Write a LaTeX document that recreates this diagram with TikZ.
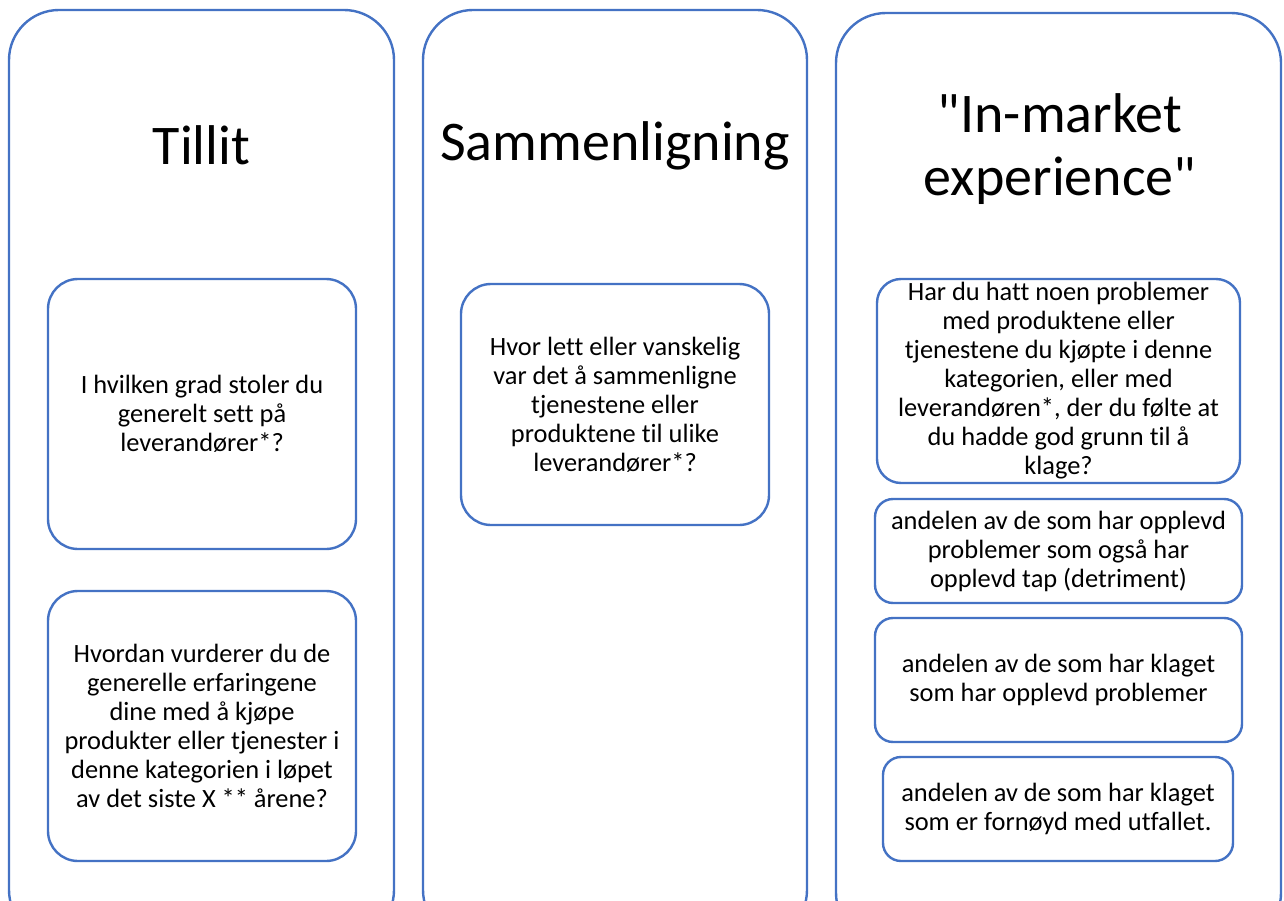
\documentclass[tikz,border=0pt]{standalone}
\usepackage{fontspec}
\setmainfont{Carlito}[Ligatures={TeXOff,NoCommon}]
\definecolor{frameblue}{HTML}{4472C4}
\tikzset{
  outerbox/.style={draw=frameblue, line width=2.4pt, rounded corners=50pt, minimum width=#1, minimum height=930pt, inner sep=0pt},
  innerbox/.style={draw=frameblue, line width=2.4pt, rounded corners=30pt, inner sep=0pt, fill=white},
  smallbox/.style={draw=frameblue, line width=2.4pt, rounded corners=18pt, inner sep=0pt, fill=white},
  title/.style={font=\fontsize{56}{63}\selectfont, align=center},
  body/.style={font=\fontsize{26.4}{29}\selectfont, align=center}
}
\begin{document}
\begin{tikzpicture}[x=1pt,y=-1pt]
\useasboundingbox (0,0) rectangle (1284,901);
\clip (0,0) rectangle (1284,901);
\fill[white] (0,0) rectangle (1284,901);
% outer columns
\node[outerbox=385pt] (col1) at (201.5,475) {};
\node[outerbox=384pt] (col2) at (615,475) {};
\node[outerbox=445pt] (col3) at (1058.5,478) {};
% titles
\node[title] (t1) at (201.5,145) {Tillit};
\node[title] (t2) at (615,146) {Sammenligning};
\node[title] (t3) at (1060,149) {"In-market\\experience"};
% Tillit boxes
\node[innerbox, minimum width=308pt, minimum height=270pt] (a1) at (202,414) {};
\node[body] (a1t) at (a1.center) {I hvilken grad stoler du\\generelt sett på\\leverandører*?};
\node[innerbox, minimum width=308pt, minimum height=270pt] (a2) at (202,726) {};
\node[body] (a2t) at (a2.center) {Hvordan vurderer du de\\generelle erfaringene\\dine med å kjøpe\\produkter eller tjenester i\\denne kategorien i løpet\\av det siste X ** årene?};
% Sammenligning box
\node[innerbox, minimum width=308pt, minimum height=241pt] (b1) at (615,404.5) {};
\node[body] (b1t) at (b1.center) {Hvor lett eller vanskelig\\var det å sammenligne\\tjenestene eller\\produktene til ulike\\leverandører*?};
% In-market boxes
\node[innerbox, rounded corners=24pt, minimum width=363pt, minimum height=204pt] (c1) at (1058.5,381) {};
\node[body] (c1t) at (c1.center) {Har du hatt noen problemer\\med produktene eller\\tjenestene du kjøpte i denne\\kategorien, eller med\\leverandøren*, der du følte at\\du hadde god grunn til å\\klage?};
\node[smallbox, minimum width=367pt, minimum height=104pt] (c2) at (1058.5,551) {};
\node[body] (c2t) at (c2.center) {andelen av de som har opplevd\\problemer som også har\\opplevd tap (detriment)};
\node[smallbox, minimum width=367pt, minimum height=124pt] (c3) at (1058.5,680) {};
\node[body] (c3t) at (c3.center) {andelen av de som har klaget\\som har opplevd problemer};
\node[smallbox, minimum width=350pt, minimum height=104pt] (c4) at (1058,809) {};
\node[body] (c4t) at (c4.center) {andelen av de som har klaget\\som er fornøyd med utfallet.};
\end{tikzpicture}
\end{document}
